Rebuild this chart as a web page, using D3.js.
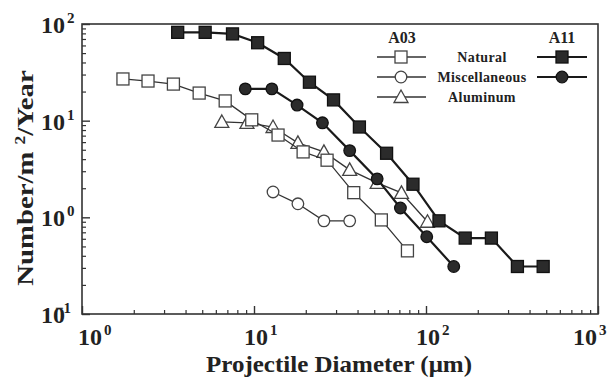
<!DOCTYPE html>
<html>
<head>
<meta charset="utf-8">
<script src="https://cdn.jsdelivr.net/npm/d3@7"></script>
<style>
  body { margin: 0; background: #fff; }
  text { font-family: "Liberation Serif", "Times New Roman", serif; font-weight: bold; fill: #222; }
</style>
</head>
<body>
<script>
var width = 612;
var height = 378;
var plotLeft = 82, plotRight = 598, plotTop = 24, plotBottom = 314;

// ***** data *****
var diamA11Nat = [3.6, 5.2, 7.5, 10.5, 15, 21, 29, 41, 59, 84, 119, 169, 240, 340, 480];
var fluxA11Nat = [82, 82, 79, 64, 44, 25, 16.4, 8.6, 4.6, 2.2, 0.92, 0.61, 0.61, 0.31, 0.31];

var diamA11Misc = [8.9, 12.7, 17.8, 25, 36, 52, 71, 101, 145];
var fluxA11Misc = [21.3, 21.3, 14.5, 9.5, 4.9, 2.5, 1.25, 0.63, 0.31];

var diamA03Nat = [1.73, 2.42, 3.4, 4.8, 6.8, 9.7, 13.8, 19.3, 26.6, 38, 55, 78];
var fluxA03Nat = [27, 25.7, 23.9, 19.3, 16, 10.2, 7.1, 4.75, 3.9, 1.8, 0.94, 0.45];

var diamA03Misc = [12.9, 18, 25.5, 36];
var fluxA03Misc = [1.83, 1.38, 0.92, 0.92];

var diamA03Al = [6.5, 9.1, 12.9, 18, 25.5, 36, 52, 72, 102];
var fluxA03Al = [9.7, 9.5, 8.6, 5.9, 4.75, 3.1, 2.27, 1.79, 0.9];

var xTicks = [1, 10, 100, 1000];
var xTickExp = ["0", "1", "2", "3"];
var yTicks = [100, 10, 1, 0.1];
var yTickExp = ["2", "1", "0", "\u22121"];

var legendRows = ["Natural", "Miscellaneous", "Aluminum"];

var svg = d3.select("body").append("svg")
    .attr("width", width)
    .attr("height", height);

var x = d3.scaleLog().domain([1, 1000]).range([plotLeft, plotRight]);
var y = d3.scaleLog().domain([0.1, 100]).range([plotBottom, plotTop]);

// ***** frame *****
svg.append("rect")
    .attr("x", plotLeft).attr("y", plotTop)
    .attr("width", plotRight - plotLeft).attr("height", plotBottom - plotTop)
    .attr("fill", "none")
    .attr("stroke", "#333")
    .attr("stroke-width", 1.6);

// ***** ticks (inside, left and bottom only) *****
var xMinor = [], yMinor = [];
for (var e = 0; e < 3; e++) for (var m = 2; m < 10; m++) xMinor.push(m * Math.pow(10, e));
for (var e2 = -1; e2 < 2; e2++) for (var m2 = 2; m2 < 10; m2++) yMinor.push(m2 * Math.pow(10, e2));

function styleTicks(w){
    return function(g){ g.select(".domain").remove(); g.selectAll("line").attr("stroke", "#333").attr("stroke-width", w); };
}
svg.append("g").attr("transform", "translate(0," + plotBottom + ")")
    .call(d3.axisTop(x).tickValues(xMinor).tickSize(4).tickFormat(""))
    .call(styleTicks(1.2));
svg.append("g").attr("transform", "translate(0," + plotBottom + ")")
    .call(d3.axisTop(x).tickValues(xTicks).tickSize(8).tickFormat(""))
    .call(styleTicks(1.4));
svg.append("g").attr("transform", "translate(" + plotLeft + ",0)")
    .call(d3.axisRight(y).tickValues(yMinor).tickSize(4).tickFormat(""))
    .call(styleTicks(1.2));
svg.append("g").attr("transform", "translate(" + plotLeft + ",0)")
    .call(d3.axisRight(y).tickValues(yTicks).tickSize(8).tickFormat(""))
    .call(styleTicks(1.4));

// ***** tick labels *****
xTicks.forEach(function(v, i){
    var t = svg.append("text")
        .attr("x", x(v) - 10 - (i == 3 ? 15 : 0) + (i == 0 ? 6 : 0))
        .attr("y", plotBottom + 31)
        .style("font-size", "24px");
    t.append("tspan").text("10");
    t.append("tspan").attr("dx", 2).attr("dy", -10).style("font-size", "15px").text(xTickExp[i]);
});
yTicks.forEach(function(v, i){
    var t = svg.append("text")
        .attr("x", 41)
        .attr("y", y(v) + 9)
        .style("font-size", "24px");
    t.append("tspan").text("10");
    if (i == 3)
        t.append("tspan").attr("dx", -10).attr("dy", -10).style("font-size", "15px").text(yTickExp[i]);
    else
        t.append("tspan").attr("dx", 2).attr("dy", -10).style("font-size", "15px").text(yTickExp[i]);
});

// ***** axis titles *****
svg.append("text")
    .attr("x", 339).attr("y", 372)
    .attr("text-anchor", "middle")
    .attr("textLength", 266)
    .attr("lengthAdjust", "spacingAndGlyphs")
    .style("font-size", "23px")
    .text("Projectile Diameter (\u03bcm)");

// y title: stretched along its length like the scanned original
var yt = svg.append("text")
    .attr("transform", "translate(33,178) rotate(-90) scale(1.25,1)")
    .attr("text-anchor", "middle")
    .style("font-size", "23px");
yt.append("tspan").text("Number/m ");
yt.append("tspan").attr("dy", -8).style("font-size", "14px").text("2");
yt.append("tspan").attr("dy", 8).text("/Year");

// ***** series *****
var line = d3.line().x(function(d){ return x(d[0]); }).y(function(d){ return y(d[1]); });

function drawMarker(g, shape, cx, cy, filled){
    var fill = filled ? "#2b2b2b" : "#fff";
    var stroke = filled ? "#111" : "#444";
    if (shape == "square")
        g.append("rect").attr("x", cx - 6).attr("y", cy - 6).attr("width", 12).attr("height", 12)
            .attr("fill", fill).attr("stroke", stroke).attr("stroke-width", 1.3);
    else if (shape == "circle")
        g.append("circle").attr("cx", cx).attr("cy", cy).attr("r", 5.8)
            .attr("fill", fill).attr("stroke", stroke).attr("stroke-width", 1.3);
    else
        g.append("path").attr("d", "M" + cx + "," + (cy - 7) + "L" + (cx + 7) + "," + (cy + 5.5) + "L" + (cx - 7) + "," + (cy + 5.5) + "Z")
            .attr("fill", fill).attr("stroke", stroke).attr("stroke-width", 1.3);
}

function drawSeries(xs, ys, shape, filled){
    var pts = xs.map(function(v, i){ return [v, ys[i]]; });
    var g = svg.append("g");
    g.append("path").datum(pts)
        .attr("d", line)
        .attr("fill", "none")
        .attr("stroke", filled ? "#1a1a1a" : "#333")
        .attr("stroke-width", filled ? 2.2 : 1.3);
    pts.forEach(function(p){ drawMarker(g, shape, x(p[0]), y(p[1]), filled); });
}

drawSeries(diamA03Al, fluxA03Al, "triangle", false);
drawSeries(diamA03Misc, fluxA03Misc, "circle", false);
drawSeries(diamA03Nat, fluxA03Nat, "square", false);
drawSeries(diamA11Misc, fluxA11Misc, "circle", true);
drawSeries(diamA11Nat, fluxA11Nat, "square", true);

// ***** legend *****
var legendShapes = ["square", "circle", "triangle"];
svg.append("text").attr("x", 402).attr("y", 43).attr("text-anchor", "middle").style("font-size", "16px").text("A03");
svg.append("text").attr("x", 562).attr("y", 43).attr("text-anchor", "middle").style("font-size", "16px").text("A11");
legendRows.forEach(function(name, i){
    var ly = 57 + i * 20;
    var g = svg.append("g");
    g.append("line").attr("x1", 377).attr("x2", 426).attr("y1", ly).attr("y2", ly)
        .attr("stroke", "#333").attr("stroke-width", 1.3);
    drawMarker(g, legendShapes[i], 401, ly, false);
    svg.append("text").attr("x", 482).attr("y", ly + 5)
        .attr("text-anchor", "middle")
        .style("font-size", "14px")
        .style("letter-spacing", "0.4px")
        .text(name);
    if (i < 2){
        g.append("line").attr("x1", 537).attr("x2", 587).attr("y1", ly).attr("y2", ly)
            .attr("stroke", "#1a1a1a").attr("stroke-width", 2.2);
        drawMarker(g, legendShapes[i], 562, ly, true);
    }
});
</script>
</body>
</html>
